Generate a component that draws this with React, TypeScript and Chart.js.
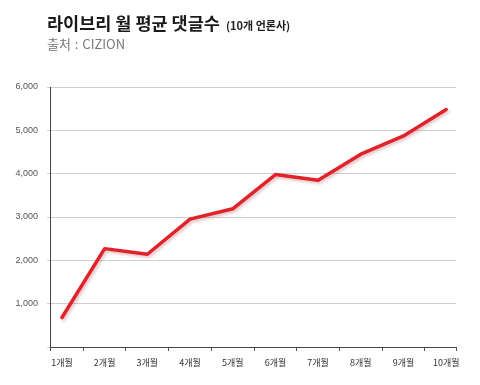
import { useEffect, useRef } from 'react';
import { Chart, registerables } from 'chart.js';

Chart.register(...registerables);

const categories = ['1개월', '2개월', '3개월', '4개월', '5개월', '6개월', '7개월', '8개월', '9개월', '10개월'];
const avgComments = [680, 2270, 2140, 2950, 3190, 3980, 3850, 4450, 4870, 5480];
const xPositions = [1, 2, 3, 4, 5, 6, 7, 8, 9, 10];
const xTickMarks = [1.5, 2.5, 3.5, 4.5, 5.5, 6.5, 7.5, 8.5, 9.5];

const titleText = '라이브리 월 평균 댓글수';
const titleNote = '(10개 언론사)';
const sourceText = '출처 : CIZION';

const shadowPlugin = {
  id: 'lineShadow',
  beforeDatasetDraw(chart: any) {
    const ctx = chart.ctx;
    ctx.save();
    ctx.shadowColor = 'rgba(150,40,40,0.28)';
    ctx.shadowBlur = 3;
    ctx.shadowOffsetX = 1.5;
    ctx.shadowOffsetY = 2;
  },
  afterDatasetDraw(chart: any) {
    chart.ctx.restore();
  },
};

const KR = "'Noto Sans CJK KR', 'Noto Sans', sans-serif";
const NUM = "'Liberation Sans Narrow', 'Liberation Sans', Arial, sans-serif";

export default function App() {
  const ref = useRef<HTMLCanvasElement>(null);

  useEffect(() => {
    if (!ref.current) return;
    const chart = new Chart(ref.current, {
      type: 'line',
      data: {
        datasets: [
          {
            label: titleText,
            data: xPositions.map((x, i) => ({ x, y: avgComments[i] })),
            borderColor: '#e0232b',
            borderWidth: 3.5,
            pointRadius: 0,
            tension: 0,
            fill: false,
            borderJoinStyle: 'round',
            borderCapStyle: 'round',
          },
        ],
      },
      options: {
        animation: false,
        responsive: false,
        maintainAspectRatio: false,
        layout: { padding: { left: 0, top: 87, right: 24, bottom: 8 } },
        plugins: { legend: { display: false }, tooltip: { enabled: false }, title: { display: false } },
        scales: {
          x: {
            type: 'linear',
            min: 0.72,
            max: 10.23,
            afterBuildTicks: (axis: any) => {
              const vals = [axis.min, ...xPositions, ...xTickMarks, axis.max].sort((a, b) => a - b);
              axis.ticks = vals.map((v) => ({ value: v }));
            },
            afterFit: (s: any) => {
              s.height = 30;
            },
            ticks: {
              autoSkip: false,
              maxRotation: 0,
              padding: 6,
              color: '#333',
              font: { family: KR, size: 9 },
              callback: (v: any) => (Number.isInteger(v) && v >= 1 && v <= 10 ? categories[v - 1] : ''),
            },
            grid: {
              drawOnChartArea: false,
              tickLength: 4,
              color: (ctx: any) => (Number.isInteger(ctx.tick?.value) ? 'rgba(0,0,0,0)' : '#555'),
            },
            border: { color: '#444', width: 1 },
          },
          y: {
            min: 0,
            max: 6000,
            afterFit: (s: any) => {
              s.width = 50;
            },
            ticks: {
              stepSize: 1000,
              padding: 9,
              color: '#555',
              font: { family: NUM, size: 9 },
              callback: (v: any) => (v === 0 ? '' : Number(v).toLocaleString('en-US')),
            },
            grid: { color: '#cfcfcf', lineWidth: 1, tickLength: 3 },
            border: { color: '#444', width: 1 },
          },
        },
      },
      plugins: [shadowPlugin],
    });
    return () => chart.destroy();
  }, []);

  return (
    <div style={{ position: 'absolute', left: 0, top: 0, width: 480, height: 385, background: '#fff' }}>
      <canvas ref={ref} width={480} height={385} style={{ position: 'absolute', left: 0, top: 0 }} />
      <div
        style={{
          position: 'absolute',
          left: 47,
          top: 14,
          fontFamily: KR,
          lineHeight: 1,
          whiteSpace: 'nowrap',
          color: '#1a1a1a',
        }}
      >
        <span style={{ fontSize: 17.5, fontWeight: 700 }}>{titleText}</span>
        <span style={{ fontSize: 11, fontWeight: 700, marginLeft: 6, color: '#222' }}>{titleNote}</span>
      </div>
      <div
        style={{
          position: 'absolute',
          left: 47,
          top: 37,
          fontFamily: KR,
          fontSize: 13,
          lineHeight: 1,
          color: '#777',
          whiteSpace: 'nowrap',
          wordSpacing: 1,
        }}
      >
        {sourceText}
      </div>
    </div>
  );
}
